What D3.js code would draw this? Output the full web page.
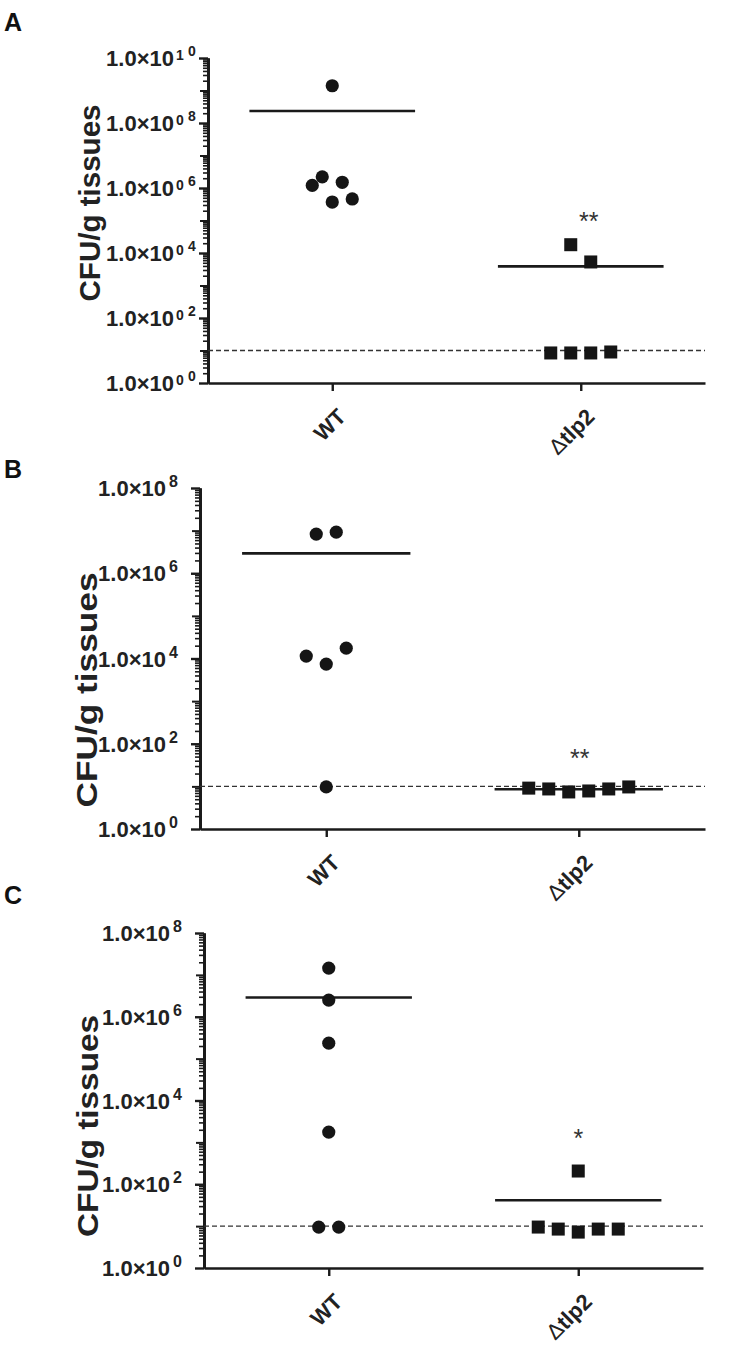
<!DOCTYPE html>
<html>
<head>
<meta charset="utf-8">
<script src="https://cdnjs.cloudflare.com/ajax/libs/d3/7.8.5/d3.min.js"></script>
<style>
  body { margin: 0; background: #fff; }
  svg { font-family: "Liberation Sans", Arial, sans-serif; }
  .axis path.domain { stroke: #1a1a1a; stroke-width: 2.6; }
  .axis line { stroke: #1a1a1a; }
  .mean { stroke: #1a1a1a; stroke-width: 2.6; }
  .lod { stroke: #333; stroke-width: 1.3; stroke-dasharray: 5 3; }
  .pt { fill: #151515; }
</style>
</head>
<body>
<div id="figure"></div>
<script>
// groups on the x axis
const groups = ['WT', 'Δtlp2'];

// CFU/g tissue per animal
const aWT = [1.4e9, 2.2e6, 1.2e6, 1.5e6, 3.7e5, 4.6e5];
const aTlp2 = [1.8e4, 5.3e3, 8.4, 8.4, 8.4, 9.0];
const bWT = [8.3e6, 9.2e6, 1.14e4, 7.4e3, 1.75e4, 9.7];
const bTlp2 = [9.1, 8.7, 7.4, 7.8, 8.7, 9.7];
const cWT = [1.45e7, 2.5e6, 2.34e5, 1.76e3, 9.5, 9.5];
const cTlp2 = [207, 9.5, 8.5, 7.2, 8.5, 8.5];

const panelLetters = ['A', 'B', 'C'];
const significance = ['**', '**', '*'];
const yMaxExponent = [10, 8, 8];
const detectionLimit = 10;

const panelData = [[aWT, aTlp2], [bWT, bTlp2], [cWT, cTlp2]];

// placement of each panel on the page
const layout = [
    { top: 58, bottom: 383, left: 208, right: 705, letterY: 31, titleX: 100, titleY: 203, titleLen: 197, sigDx: 8, sigY: 230,
      twoDigitExp: true, jitter: [[0, -10, -20, 10, 0, 20], [-10, 10, -30, -10, 10, 30]] },
    { top: 488, bottom: 829, left: 200, right: 705, letterY: 478, titleX: 97, titleY: 690, titleLen: 235, sigDx: 1, sigY: 767,
      twoDigitExp: false, jitter: [[-10, 10, -20, 0, 20, 0], [-50, -30, -10, 10, 30, 50]] },
    { top: 933, bottom: 1268, left: 204, right: 703, letterY: 904, titleX: 98, titleY: 1126, titleLen: 222, sigDx: 0, sigY: 1147,
      twoDigitExp: false, jitter: [[0, 0, 0, 0, -10, 10], [0, -40, -20, 0, 20, 40]] }
];

const width = 732;
const height = 1358;

const svg = d3.select('#figure').append('svg')
    .attr('width', width)
    .attr('height', height);

panelData.forEach((series, i) => {
    const L = layout[i];
    const g = svg.append('g');

    const y = d3.scaleLog()
        .domain([1, Math.pow(10, yMaxExponent[i])])
        .range([L.bottom, L.top]);

    const x = d3.scalePoint()
        .domain(groups)
        .range([L.left, L.right])
        .padding(0.5);

    // y ticks: minor 2..9, odd decades, labelled even decades
    const minor = [], odd = [], major = [];
    for (let k = 0; k <= yMaxExponent[i]; k++) {
        const p = Math.pow(10, k);
        if (k % 2 === 0) major.push(p); else odd.push(p);
        if (k < yMaxExponent[i]) for (let m = 2; m <= 9; m++) minor.push(m * p);
    }

    g.append('g').attr('class', 'axis')
        .attr('transform', `translate(${L.left},0)`)
        .call(d3.axisLeft(y).tickValues(minor).tickSize(5).tickSizeOuter(0).tickFormat(''))
        .selectAll('.tick line').attr('stroke-width', 1.6);
    g.append('g').attr('class', 'axis')
        .attr('transform', `translate(${L.left},0)`)
        .call(d3.axisLeft(y).tickValues(odd).tickSize(8).tickSizeOuter(0).tickFormat(''))
        .selectAll('.tick line').attr('stroke-width', 2);
    const yAxis = g.append('g').attr('class', 'axis')
        .attr('transform', `translate(${L.left},0)`)
        .call(d3.axisLeft(y).tickValues(major).tickSize(9).tickSizeOuter(0).tickFormat(''));
    yAxis.selectAll('.tick line').attr('stroke-width', 2.4);

    // tick labels 1.0×10^n
    major.forEach(v => {
        const e = Math.round(Math.log10(v));
        const ty = y(v);
        g.append('text')
            .attr('x', L.left - 34)
            .attr('y', ty)
            .attr('dy', '0.37em')
            .attr('text-anchor', 'end')
            .attr('font-size', 22)
            .attr('font-weight', 'bold')
            .attr('fill', '#222')
            .text('1.0×10');
        if (L.twoDigitExp) {
            const s = d3.format('02d')(e);
            g.append('text')
                .attr('x', L.left - 32).attr('y', ty + 2)
                .attr('font-size', 14).attr('font-weight', 'bold').attr('fill', '#222')
                .text(s[0]);
            g.append('text')
                .attr('x', L.left - 20).attr('y', ty - 2)
                .attr('font-size', 14).attr('font-weight', 'bold').attr('fill', '#222')
                .text(s[1]);
        } else {
            g.append('text')
                .attr('x', L.left - 31).attr('y', ty - 1)
                .attr('font-size', 16).attr('font-weight', 'bold').attr('fill', '#222')
                .text(e);
        }
    });

    // x axis
    const xAxis = g.append('g').attr('class', 'axis')
        .attr('transform', `translate(0,${L.bottom})`)
        .call(d3.axisBottom(x).tickSize(8).tickSizeOuter(0).tickFormat(''));
    xAxis.selectAll('.tick line').attr('stroke-width', 2.4);

    groups.forEach(name => {
        const t = g.append('text')
            .attr('transform', `translate(${x(name) + 4},${L.bottom + 24}) rotate(-45)`)
            .attr('dy', '0.71em')
            .attr('text-anchor', 'end')
            .attr('font-size', 22)
            .attr('font-weight', 'bold')
            .attr('fill', '#222');
        if (name.startsWith('Δ')) {
            t.append('tspan').attr('font-weight', 'normal').text('Δ');
            t.append('tspan').text(name.slice(1));
        } else {
            t.text(name);
        }
    });

    // detection limit
    g.append('line').attr('class', 'lod')
        .attr('x1', L.left).attr('x2', L.right)
        .attr('y1', y(detectionLimit)).attr('y2', y(detectionLimit));

    // mean lines
    const half = x.step() / 3;
    groups.forEach((name, j) => {
        const m = d3.mean(series[j]);
        g.append('line').attr('class', 'mean')
            .attr('x1', x(name) - half).attr('x2', x(name) + half)
            .attr('y1', y(m)).attr('y2', y(m));
    });

    // points: circles for WT, squares for the mutant
    g.append('g').selectAll('circle')
        .data(series[0])
        .join('circle')
            .attr('class', 'pt')
            .attr('cx', (d, k) => x(groups[0]) + L.jitter[0][k])
            .attr('cy', d => y(d))
            .attr('r', 6.6);
    g.append('g').selectAll('rect')
        .data(series[1])
        .join('rect')
            .attr('class', 'pt')
            .attr('x', (d, k) => x(groups[1]) + L.jitter[1][k] - 6.5)
            .attr('y', d => y(d) - 6.5)
            .attr('width', 13)
            .attr('height', 13);

    // significance stars
    g.append('text')
        .attr('x', x(groups[1]) + L.sigDx)
        .attr('y', L.sigY)
        .attr('text-anchor', 'middle')
        .attr('font-size', 25)
        .attr('fill', '#333')
        .text(significance[i]);

    // y title
    g.append('text')
        .attr('transform', `translate(${L.titleX},${L.titleY}) rotate(-90)`)
        .attr('text-anchor', 'middle')
        .attr('font-size', 29)
        .attr('font-weight', 'bold')
        .attr('fill', '#222')
        .attr('textLength', L.titleLen)
        .attr('lengthAdjust', 'spacingAndGlyphs')
        .text('CFU/g tissues');

    // panel letter
    svg.append('text')
        .attr('x', 4)
        .attr('y', L.letterY)
        .attr('font-size', 25)
        .attr('font-weight', 'bold')
        .attr('fill', '#111')
        .text(panelLetters[i]);
});
</script>
</body>
</html>
